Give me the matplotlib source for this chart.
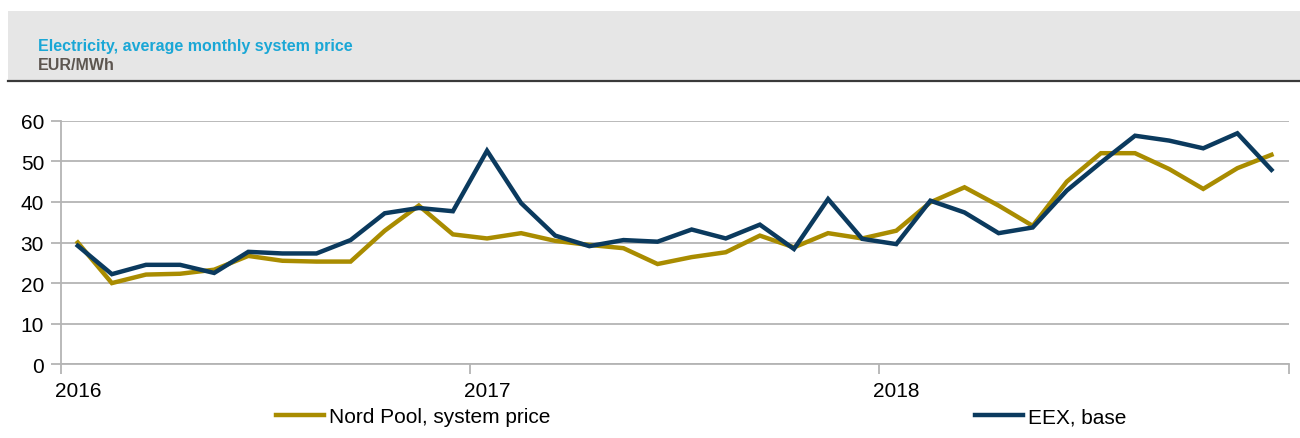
import matplotlib.pyplot as plt
from matplotlib.patches import Rectangle
from matplotlib.lines import Line2D

plt.rcParams['font.family'] = ['Liberation Sans', 'DejaVu Sans']

# monthly averages, Jan 2016 .. Dec 2018 (EUR/MWh)
months = list(range(36))
nord_pool = [30.0, 20.0, 22.1, 22.3, 23.3, 26.7, 25.5, 25.3, 25.3, 32.9, 39.1, 32.0,
             31.0, 32.3, 30.4, 29.4, 28.6, 24.7, 26.4, 27.6, 31.7, 28.8, 32.3, 31.0,
             32.9, 39.9, 43.6, 39.1, 34.1, 45.0, 52.0, 52.0, 48.1, 43.2, 48.3, 51.6]
eex_base = [29.2, 22.2, 24.5, 24.5, 22.5, 27.7, 27.3, 27.3, 30.6, 37.2, 38.5, 37.7,
            52.6, 39.7, 31.7, 29.1, 30.6, 30.2, 33.2, 31.0, 34.4, 28.4, 40.7, 30.9,
            29.6, 40.3, 37.4, 32.3, 33.7, 42.8, 49.7, 56.3, 55.1, 53.2, 56.9, 47.9]
years = ['2016', '2017', '2018']
yticks = [0, 10, 20, 30, 40, 50, 60]

gold = '#a98c00'
navy = '#0b3a5e'
grid_c = '#b4b4b4'

W, H = 1300, 439
fig = plt.figure(figsize=(W / 100, H / 100), dpi=100)

# header band
fig.patches.append(Rectangle((8 / W, 1 - 82 / H), 1 - 8 / W, 70 / H,
                             transform=fig.transFigure, facecolor='#e6e6e6',
                             edgecolor='none', zorder=0))
fig.lines.append(Line2D([8 / W, 1], [1 - 82 / H, 1 - 82 / H], transform=fig.transFigure,
                        color='#3a3a3a', lw=1.6))
fig.text(38 / W, 1 - 46 / H, 'Electricity, average monthly system price',
         color='#1aa7d6', fontsize=11.5, fontweight='bold', va='center')
fig.text(38 / W, 1 - 65 / H, 'EUR/MWh', color='#5d5650', fontsize=11.5,
         fontweight='bold', va='center')

left, right, top, bottom = 60.7, 1288.5, 121.7, 365.3
ax = fig.add_axes([left / W, 1 - bottom / H, (right - left) / W, (bottom - top) / H])

x = [m + 0.5 for m in months]
ax.plot(x, nord_pool, color=gold, lw=3.2, solid_joinstyle='miter', label='Nord Pool, system price')
ax.plot(x, eex_base, color=navy, lw=3.2, solid_joinstyle='miter', label='EEX, base')

ax.set_xlim(0, 36)
ax.set_ylim(0, 60)
ax.set_yticks(yticks)
ax.grid(axis='y', color=grid_c, lw=1.3)
ax.set_axisbelow(True)
for s in ['top', 'right']:
    ax.spines[s].set_visible(False)
for s in ['left', 'bottom']:
    ax.spines[s].set_color(grid_c)
    ax.spines[s].set_linewidth(1.3)

ax.set_xticks([0, 12, 24, 36])
ax.set_xticklabels([])
ax.set_xticks([0.5 + 12 * i for i in range(len(years))], minor=True)
ax.set_xticklabels(years, minor=True)
ax.tick_params(axis='x', which='major', length=7, color=grid_c, width=1.3)
ax.tick_params(axis='x', which='minor', length=0, pad=12, labelsize=15)
ax.tick_params(axis='y', length=7, color=grid_c, width=1.3, labelsize=15, pad=5)

handles, labels = ax.get_legend_handles_labels()
for h, lab, xl in zip(handles, labels, [276, 975]):
    fig.legend([h], [lab], loc='center left', bbox_to_anchor=(xl / W, 1 - 418 / H),
               frameon=False, fontsize=15, handlelength=2.3, handletextpad=0.25,
               borderpad=0, borderaxespad=0)

fig.savefig('out.png', dpi=100)
